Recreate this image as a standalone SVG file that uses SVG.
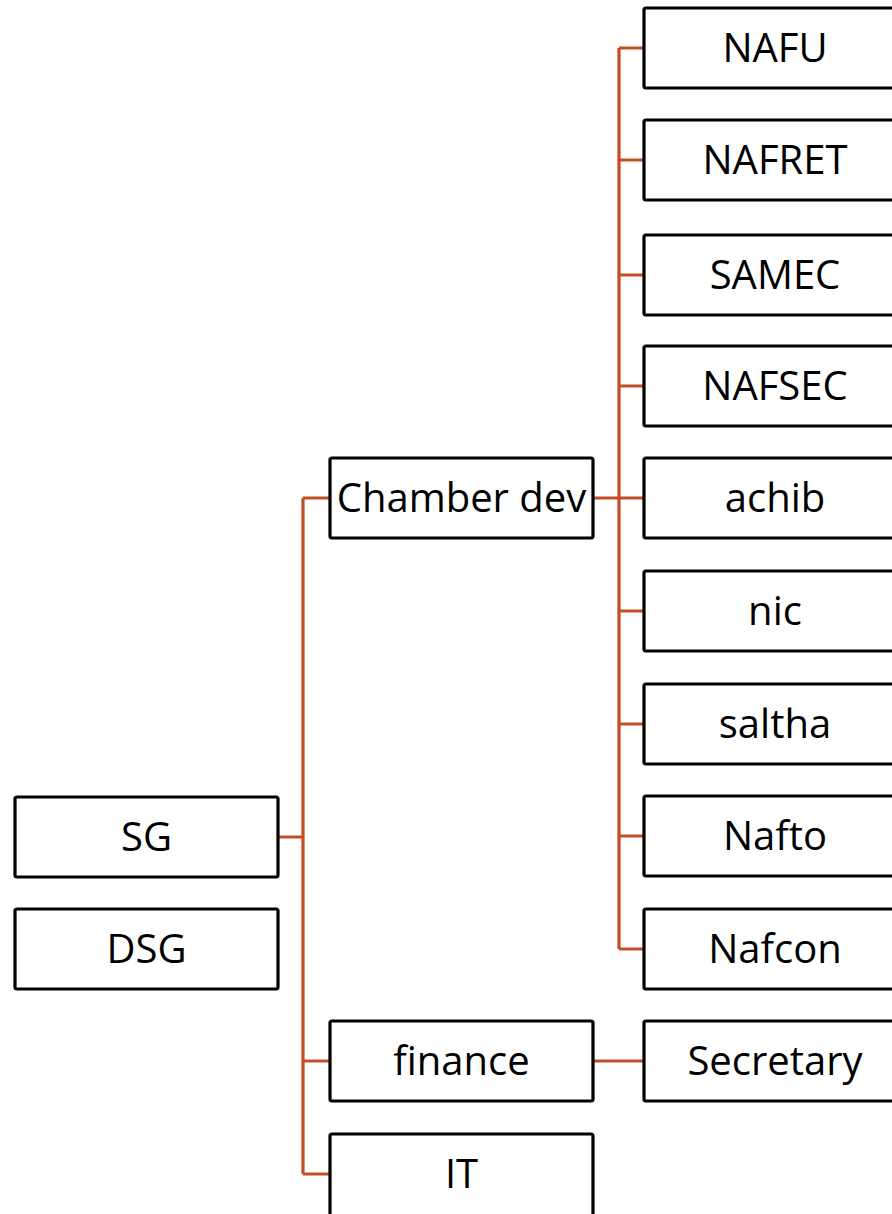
<svg xmlns="http://www.w3.org/2000/svg" width="892" height="1214" viewBox="0 0 892 1214">
<style>
.box{fill:#fff;stroke:#000;stroke-width:3.2;}
.lbl{font-family:"Open Sans","Noto Sans",sans-serif;font-size:40px;fill:#000;text-anchor:middle;}
.con{fill:none;stroke:#C44E24;stroke-width:3.2;}
</style>
<rect width="892" height="1214" fill="#fff"/>
<g id="connectors">
<path class="con" d="M278 837 H303 M303 498 V1174 M303 498 H330 M303 1061 H330 M303 1174 H330"/>
<path class="con" d="M593 498 H644 M619 48 V949 M619 48 H644 M619 160 H644 M619 275 H644 M619 386 H644 M619 611 H644 M619 724 H644 M619 836 H644 M619 949 H644"/>
<path class="con" d="M593 1061 H644"/>
</g>
<g id="SG"><rect class="box" x="15" y="797" width="263" height="80" rx="2"/><text class="lbl" x="146.5" y="851">SG</text></g>
<g id="DSG"><rect class="box" x="15" y="909" width="263" height="80" rx="2"/><text class="lbl" x="146.5" y="963">DSG</text></g>
<g id="ChamberDev"><rect class="box" x="330" y="458" width="263" height="80" rx="2"/><text class="lbl" x="461.5" y="512">Chamber dev</text></g>
<g id="finance"><rect class="box" x="330" y="1021" width="263" height="80" rx="2"/><text class="lbl" x="461.5" y="1075">finance</text></g>
<g id="IT"><rect class="box" x="330" y="1134" width="263" height="82" rx="2"/><text class="lbl" x="461.5" y="1188">IT</text></g>
<g id="NAFU"><rect class="box" x="644" y="8" width="262" height="80" rx="2"/><text class="lbl" x="775" y="62">NAFU</text></g>
<g id="NAFRET"><rect class="box" x="644" y="120" width="262" height="80" rx="2"/><text class="lbl" x="775" y="174">NAFRET</text></g>
<g id="SAMEC"><rect class="box" x="644" y="235" width="262" height="80" rx="2"/><text class="lbl" x="775" y="289">SAMEC</text></g>
<g id="NAFSEC"><rect class="box" x="644" y="346" width="262" height="80" rx="2"/><text class="lbl" x="775" y="400">NAFSEC</text></g>
<g id="achib"><rect class="box" x="644" y="458" width="262" height="80" rx="2"/><text class="lbl" x="775" y="512">achib</text></g>
<g id="nic"><rect class="box" x="644" y="571" width="262" height="80" rx="2"/><text class="lbl" x="775" y="625">nic</text></g>
<g id="saltha"><rect class="box" x="644" y="684" width="262" height="80" rx="2"/><text class="lbl" x="775" y="738">saltha</text></g>
<g id="Nafto"><rect class="box" x="644" y="796" width="262" height="80" rx="2"/><text class="lbl" x="775" y="850">Nafto</text></g>
<g id="Nafcon"><rect class="box" x="644" y="909" width="262" height="80" rx="2"/><text class="lbl" x="775" y="963">Nafcon</text></g>
<g id="Secretary"><rect class="box" x="644" y="1021" width="262" height="80" rx="2"/><text class="lbl" x="775" y="1075">Secretary</text></g>
</svg>
